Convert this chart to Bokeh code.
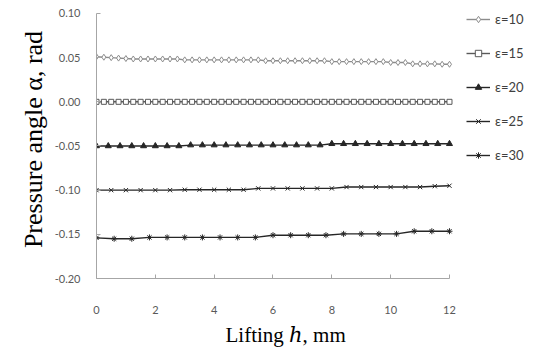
from bokeh.plotting import figure
from bokeh.models import Legend, LegendItem, FixedTicker, PrintfTickFormatter, Title
from bokeh.embed import file_html
from bokeh.resources import INLINE

# ---- data ----
x_e10 = [0, 0.25, 0.5, 0.75, 1, 1.25, 1.5, 1.75, 2, 2.25, 2.5, 2.75, 3, 3.25, 3.5, 3.75,
         4, 4.25, 4.5, 4.75, 5, 5.25, 5.5, 5.75, 6, 6.25, 6.5, 6.75, 7, 7.25, 7.5, 7.75,
         8, 8.25, 8.5, 8.75, 9, 9.25, 9.5, 9.75, 10, 10.25, 10.5, 10.75, 11, 11.25, 11.5, 11.75, 12]
y_e10 = [0.051, 0.0505, 0.050, 0.0495, 0.049,
         0.0485, 0.0485, 0.0485, 0.0485, 0.0485, 0.0485, 0.0485,
         0.0475, 0.0475, 0.0475, 0.0475, 0.0475, 0.0475, 0.0475, 0.0475, 0.0475, 0.0475, 0.0475,
         0.0465, 0.0465, 0.0465, 0.0465, 0.0465, 0.0465, 0.0465, 0.0465, 0.0465,
         0.0455, 0.0455, 0.0455, 0.0455, 0.0455, 0.0455, 0.0455, 0.0455,
         0.0445, 0.0445, 0.0445,
         0.043, 0.043, 0.043, 0.043, 0.0425, 0.0425]

x_e15 = [0, 0.25, 0.5, 0.75, 1, 1.25, 1.5, 1.75, 2, 2.25, 2.5, 2.75, 3, 3.25, 3.5, 3.75,
         4, 4.25, 4.5, 4.75, 5, 5.25, 5.5, 5.75, 6, 6.25, 6.5, 6.75, 7, 7.25, 7.5, 7.75,
         8, 8.25, 8.5, 8.75, 9, 9.25, 9.5, 9.75, 10, 10.25, 10.5, 10.75, 11, 11.25, 11.5, 11.75, 12]
y_e15 = [0.0, 0.0, 0.0, 0.0, 0.0, 0.0, 0.0, 0.0, 0.0, 0.0, 0.0, 0.0, 0.0, 0.0, 0.0, 0.0,
         0.0, 0.0, 0.0, 0.0, 0.0, 0.0, 0.0, 0.0, 0.0, 0.0, 0.0, 0.0, 0.0, 0.0, 0.0, 0.0,
         0.0, 0.0, 0.0, 0.0, 0.0, 0.0, 0.0, 0.0, 0.0, 0.0, 0.0, 0.0, 0.0, 0.0, 0.0, 0.0, 0.0]

x_e20 = [0, 0.4, 0.8, 1.2, 1.6, 2.0, 2.4, 2.8, 3.2, 3.6, 4.0, 4.4, 4.8, 5.2, 5.6, 6.0,
         6.4, 6.8, 7.2, 7.6, 8.0, 8.4, 8.8, 9.2, 9.6, 10.0, 10.4, 10.8, 11.2, 11.6, 12.0]
y_e20 = [-0.050, -0.050, -0.050, -0.050, -0.050, -0.050, -0.050, -0.050,
         -0.049, -0.049, -0.049, -0.049, -0.049, -0.049, -0.049, -0.049, -0.049, -0.049, -0.049, -0.049,
         -0.0475, -0.0475, -0.0475, -0.0475, -0.0475, -0.0475, -0.0475, -0.0475, -0.0475, -0.0475, -0.0475]

x_e25 = [0, 0.5, 1, 1.5, 2, 2.5, 3, 3.5, 4, 4.5, 5, 5.5, 6, 6.5, 7, 7.5, 8, 8.5, 9, 9.5,
         10, 10.5, 11, 11.5, 12]
y_e25 = [-0.100, -0.100, -0.100, -0.100, -0.100, -0.100,
         -0.0995, -0.0995, -0.0995, -0.0995, -0.0995,
         -0.098, -0.098, -0.098, -0.098, -0.098, -0.098,
         -0.0965, -0.0965, -0.0965, -0.0965, -0.0965, -0.0965,
         -0.0955, -0.095]

x_e30 = [0, 0.6, 1.2, 1.8, 2.4, 3.0, 3.6, 4.2, 4.8, 5.4, 6.0, 6.6, 7.2, 7.8, 8.4, 9.0,
         9.6, 10.2, 10.8, 11.4, 12.0]
y_e30 = [-0.154, -0.155, -0.155, -0.1535,
         -0.1535, -0.1535, -0.1535, -0.1535, -0.1535, -0.1535,
         -0.151, -0.151, -0.151, -0.151,
         -0.1495, -0.1495, -0.1495, -0.1495,
         -0.1465, -0.1465, -0.1465]

labels = ["ε=10", "ε=15", "ε=20", "ε=25", "ε=30"]
x_ticks = [0, 2, 4, 6, 8, 10, 12]
y_ticks = [-0.20, -0.15, -0.10, -0.05, 0.00, 0.05, 0.10]

# ---- figure ----
# frame extends to the right/top edge so the legend (drawn inside the frame) has room;
# axis lines are bounded to the data extent.
p = figure(width=539, height=356, x_range=(0, 15.06), y_range=(-0.20, 0.1147),
           output_backend="svg", toolbar_location=None,
           min_border_left=96, min_border_right=0, min_border_top=0, min_border_bottom=78)
p.grid.visible = False
p.outline_line_color = None
p.background_fill_color = "white"
p.border_fill_color = "white"

series = [
    (x_e10, y_e10, "diamond", "#8c8c8c", "white", 6),
    (x_e15, y_e15, "square", "#595959", "white", 5),
    (x_e20, y_e20, "triangle", "#262626", "#262626", 6),
    (x_e25, y_e25, "x", "#262626", "#262626", 6),
    (x_e30, y_e30, "asterisk", "#262626", "#262626", 6),
]
items = []
for (xs, ys, mk, col, fill, sz), lab in zip(series, labels):
    ln = p.line(xs, ys, line_color=col, line_width=1.4)
    sc = p.scatter(xs, ys, marker=mk, size=sz, line_color=col, fill_color=fill, line_width=1)
    items.append(LegendItem(label=lab, renderers=[ln, sc]))

legend = Legend(items=items, location=(370, 115), padding=0, margin=0,
                glyph_width=24, glyph_height=16, label_height=16, spacing=18,
                label_standoff=5,
                label_text_font="Lato", label_text_font_size="13px",
                label_text_color="#404040", border_line_color=None,
                background_fill_alpha=0)
p.add_layout(legend, "center")

# axes
for ax in (p.xaxis[0], p.yaxis[0]):
    ax.axis_line_color = "#a6a6a6"
    ax.major_tick_line_color = "#a6a6a6"
    ax.major_tick_in = 4
    ax.major_tick_out = 0
    ax.minor_tick_line_color = None
    ax.major_label_text_font = "Lato"
    ax.major_label_text_font_size = "11px"
    ax.major_label_text_color = "#595959"
    ax.axis_label_text_font = "Liberation Serif, DejaVu Serif"
    ax.axis_label_text_font_style = "normal"
    ax.axis_label_text_color = "black"

p.xaxis.bounds = (0, 12)
p.yaxis.bounds = (-0.20, 0.10)
p.yaxis.axis_label_text_font_size = "26px"
p.xaxis.ticker = FixedTicker(ticks=x_ticks)
p.yaxis.ticker = FixedTicker(ticks=y_ticks)
p.yaxis.formatter = PrintfTickFormatter(format="%.2f")
p.xaxis.major_label_standoff = 27
p.yaxis.major_label_standoff = 16
p.yaxis.axis_label = "Pressure angle \u03b1, rad"
p.yaxis.axis_label_standoff = 4

# x-axis title, centred under the 0..12 data span (not the wider frame)
xtitle = Title(text="Lifting \u210e, mm", align="left", offset=129, standoff=9,
               text_font="Liberation Serif, DejaVu Serif", text_font_size="21px",
               text_font_style="normal", text_color="black")
p.add_layout(xtitle, "below")

open("out.html", "w").write(file_html(p, INLINE))
